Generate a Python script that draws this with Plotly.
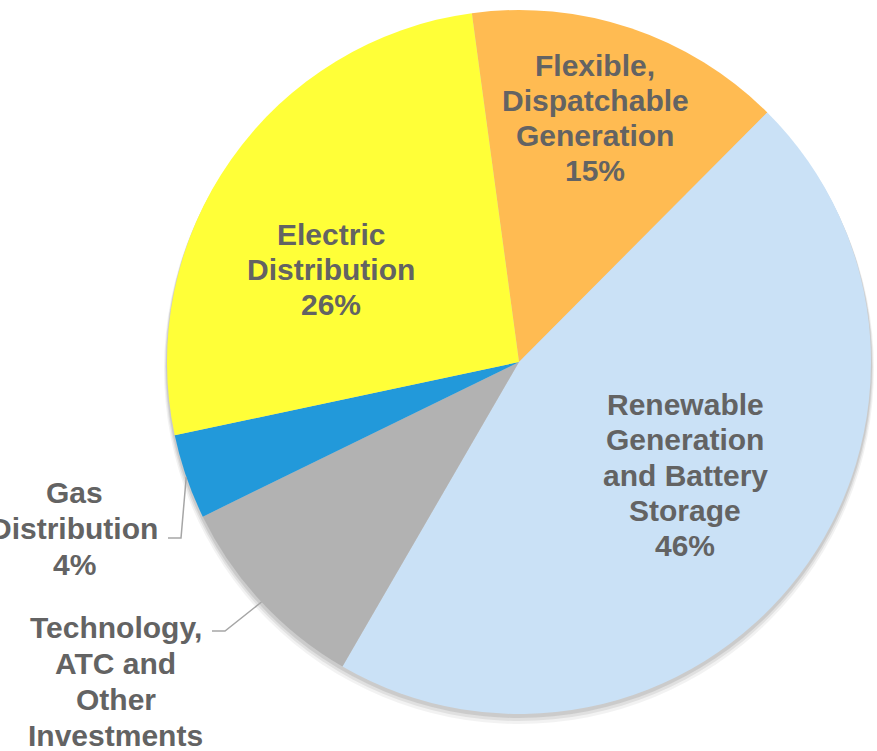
import math
import plotly.graph_objects as go

# ---- data ----
categories = ["Flexible, Dispatchable Generation",
              "Renewable Generation and Battery Storage",
              "Technology, ATC and Other Investments",
              "Gas Distribution",
              "Electric Distribution"]
values = [14.6, 45.9, 9.4, 3.9, 26.2]
colors = ["#FFBB52", "#CAE1F6", "#B2B2B2", "#2299DA", "#FFFF38"]
label_lines = [
    ["Flexible,", "Dispatchable", "Generation"],
    ["Renewable", "Generation", "and Battery", "Storage"],
    ["Technology,", "ATC and", "Other", "Investments"],
    ["Gas", "Distribution"],
    ["Electric", "Distribution"],
]
# label layout (pixel centre of first line, line spacing)
label_pos = [(595, 65, 35.3), (685, 405, 35.0), (116, 627, 36.0), (74, 492, 36.0), (331, 235, 34.5)]

W, H = 877, 751
CX, CY, R = 519, 362, 352
ROT = -7.7
TXT = "#636363"
FONT = "Liberation Sans, Arial, sans-serif"


def px(x, y):
    return x / W, 1 - y / H


def dom(cx, cy, r):
    return dict(x=[(cx - r) / W, (cx + r) / W], y=[1 - (cy + r) / H, 1 - (cy - r) / H])


fig = go.Figure()

# soft drop shadow
for d, e, a in [(7, 3, 0.05), (5, 2, 0.07), (3, 1, 0.09)]:
    fig.add_trace(go.Pie(values=[1], labels=["s"], marker=dict(colors=[f"rgba(0,0,0,{a})"], line=dict(width=0)),
                         textinfo="none", hoverinfo="skip", sort=False, showlegend=False,
                         domain=dom(CX, CY + d, R + e)))

fig.add_trace(go.Pie(
    labels=categories, values=values, sort=False, direction="clockwise", rotation=ROT,
    marker=dict(colors=colors, line=dict(width=0)),
    textinfo="none", showlegend=False, domain=dom(CX, CY, R),
))

total = sum(values)
annotations = []
for i, lines in enumerate(label_lines):
    pct = round(values[i] / total * 100)
    allines = lines + [f"{pct}%"]
    x0, y0, sp = label_pos[i]
    for j, t in enumerate(allines):
        xx, yy = px(x0, y0 + j * sp)
        annotations.append(dict(x=xx, y=yy, xref="paper", yref="paper", text=t, showarrow=False,
                                xanchor="center", yanchor="middle",
                                font=dict(family=FONT, size=30, color=TXT, weight="bold")))

# leader lines for outside labels: end at slice mid-angle on the rim
shapes = []
cum = 0
mids = []
for v in values:
    mids.append(ROT + (cum + v / 2) / total * 360)
    cum += v
leaders = {3: (168, 538, 181), 2: (212, 631, 225)}
for i, (xs, ys, xk) in leaders.items():
    ang = math.radians(mids[i])
    ex, ey = CX + R * math.sin(ang), CY - R * math.cos(ang)
    p = [px(xs, ys), px(xk, ys), px(ex, ey)]
    path = "M {} {} L {} {} L {} {}".format(p[0][0], p[0][1], p[1][0], p[1][1], p[2][0], p[2][1])
    shapes.append(dict(type="path", path=path, xref="paper", yref="paper",
                       line=dict(color="#A6A6A6", width=1.5)))

fig.update_layout(width=W, height=H, margin=dict(l=0, r=0, t=0, b=0),
                  paper_bgcolor="white", plot_bgcolor="white",
                  annotations=annotations, shapes=shapes)
fig.write_html("out.html", config={"displayModeBar": False},
               post_script="document.body.style.margin='0';document.body.style.overflow='hidden';")
